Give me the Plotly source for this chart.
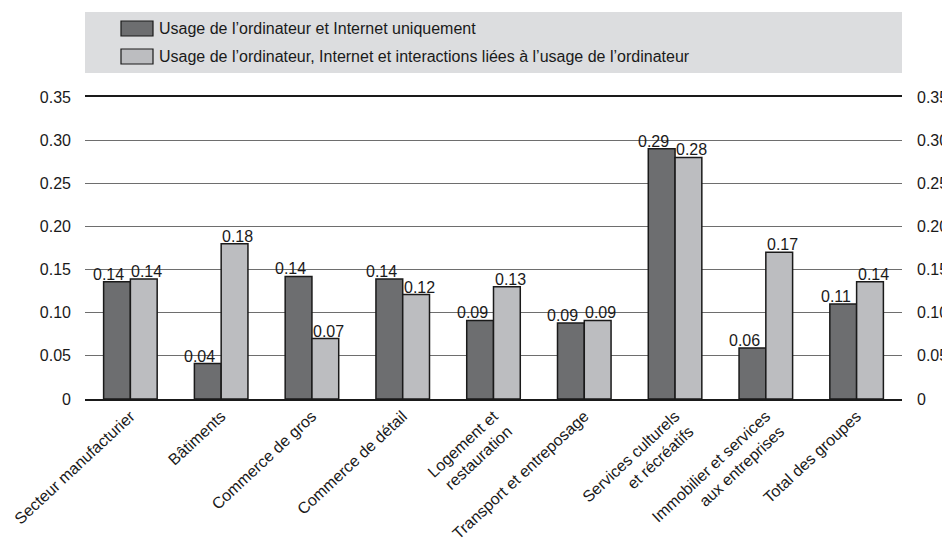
import plotly.graph_objects as go

categories = [
    "Secteur manufacturier",
    "Bâtiments",
    "Commerce de gros",
    "Commerce de détail",
    "Logement et<br>restauration",
    "Transport et entreposage",
    "Services culturels<br>et récréatifs",
    "Immobilier et services<br>aux entreprises",
    "Total des groupes",
]
series_names = [
    "Usage de l’ordinateur et Internet uniquement",
    "Usage de l’ordinateur, Internet et interactions liées à l’usage de l’ordinateur",
]
values_internet = [0.136, 0.041, 0.142, 0.139, 0.091, 0.088, 0.290, 0.059, 0.110]
values_interactions = [0.139, 0.180, 0.070, 0.121, 0.130, 0.091, 0.280, 0.170, 0.136]
tick_vals = [0, 0.05, 0.10, 0.15, 0.20, 0.25, 0.30, 0.35]
tick_text = ["0", "0.05", "0.10", "0.15", "0.20", "0.25", "0.30", "0.35"]

colors = ["#6d6e70", "#bcbdc0"]
FONT = "Liberation Sans, Arial, Helvetica, sans-serif"
INK = "#1a1a1a"

# page body has an 8px margin: figure is 942x534 so it fits the 950x542 window
W, H = 942, 534
L, R, T, B = 77, 48, 89, 143
PW, PH = W - L - R, H - T - B

fig = go.Figure()
all_vals = [values_internet, values_interactions]
for name, vals, col in zip(series_names, all_vals, colors):
    fig.add_trace(go.Bar(
        x=categories, y=vals, name=name,
        marker=dict(color=col, line=dict(color=INK, width=1.5)),
        showlegend=False, hovertemplate="%{y:.2f}<extra></extra>",
    ))

# value labels (dark: right-aligned at bar pair centre, light: left-aligned)
for vals, anchor, shift in zip(all_vals, ["right", "left"], [-4, -1]):
    for c, v in zip(categories, vals):
        fig.add_annotation(x=c, y=v, text=f"{v:.2f}", showarrow=False,
                           xanchor=anchor, yanchor="bottom", xshift=shift, yshift=-3,
                           font=dict(family=FONT, size=16, color=INK))

# invisible trace to anchor the right-hand axis
fig.add_trace(go.Scatter(x=[categories[0]], y=[0], yaxis="y2", mode="markers",
                         marker=dict(opacity=0), showlegend=False, hoverinfo="skip"))

fig.update_layout(
    width=W, height=H,
    margin=dict(l=L, r=R, t=T, b=B, autoexpand=False),
    paper_bgcolor="white", plot_bgcolor="white",
    barmode="group", bargap=0.41, bargroupgap=0,
    font=dict(family=FONT, size=16, color=INK),
    xaxis=dict(tickangle=-43, showline=True, mirror=True, linecolor=INK, linewidth=1.5,
               ticks="", tickfont=dict(family=FONT, size=16, color=INK), showgrid=False,
               automargin=False),
    yaxis=dict(range=[0, 0.35], tickvals=tick_vals, ticktext=tick_text,
               showgrid=True, gridcolor="#6e6e6e", gridwidth=1.2, zeroline=False,
               ticks="", ticklabelstandoff=13, automargin=False,
               tickfont=dict(family=FONT, size=16, color=INK)),
    yaxis2=dict(range=[0, 0.35], tickvals=tick_vals, ticktext=tick_text, overlaying="y",
                side="right", showgrid=False, zeroline=False, ticks="",
                ticklabelstandoff=14, automargin=False,
                tickfont=dict(family=FONT, size=16, color=INK)),
)

# legend panel (screen px relative to plot-area top-left at 85, 97)
def px_x(sx):
    return (sx - 85) / PW

def px_y(sy):
    return 1 + (97 - sy) / PH

fig.add_shape(type="rect", xref="paper", yref="paper", x0=0, x1=1,
              y0=px_y(73), y1=px_y(12),
              fillcolor="#dcdddf", line=dict(width=0), layer="below")
row_centers = [28.5, 56.5]
for name, col, yc in zip(series_names, colors, row_centers):
    fig.add_shape(type="rect", xref="paper", yref="paper",
                  x0=px_x(121), x1=px_x(153), y0=px_y(yc + 7.5), y1=px_y(yc - 7.5),
                  fillcolor=col, line=dict(color=INK, width=1.2))
    fig.add_annotation(text=name, xref="paper", yref="paper",
                       x=px_x(157), y=px_y(yc),
                       xanchor="left", yanchor="middle", showarrow=False,
                       font=dict(family=FONT, size=16, color=INK))

fig.write_html("out.html")
